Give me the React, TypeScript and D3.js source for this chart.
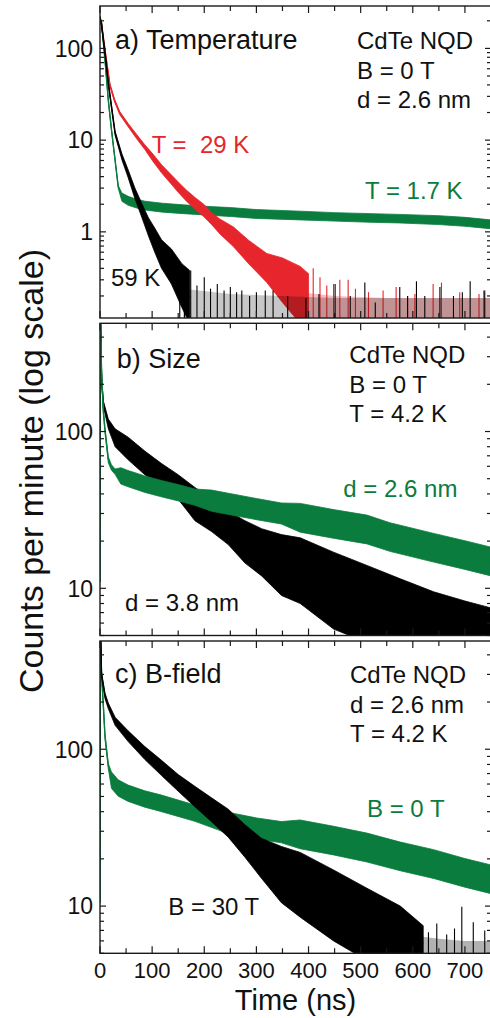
import React from 'react';
import * as d3 from 'd3';

const RED = '#e6262c';
const GREEN = '#0a7c3e';
const BLACK = '#000000';
const FONT = '"Liberation Sans", Arial, Helvetica, sans-serif';

// ---------- Panel a) Temperature ----------
const aGreenT = [0, 3, 10, 16, 22, 29, 35, 42, 54, 70, 86, 120, 160, 200, 250, 300, 384, 450, 520, 575, 650, 700, 750];
const aGreenLo = [209, 184, 68, 26, 12.6, 5.8, 3.0, 2.15, 1.95, 1.82, 1.73, 1.64, 1.58, 1.53, 1.47, 1.40, 1.35, 1.31, 1.27, 1.25, 1.2, 1.15, 1.08];
const aGreenHi = [221, 196, 72, 28, 13.4, 6.2, 3.2, 2.65, 2.44, 2.27, 2.16, 2.05, 1.97, 1.9, 1.84, 1.75, 1.68, 1.62, 1.58, 1.55, 1.5, 1.44, 1.35];

const aRedT = [0, 3, 10, 19, 28, 38, 54, 70, 86, 102, 118, 134, 150, 166, 183, 200, 214, 230, 256, 285, 320, 350, 384, 400];
const aRedLo = [207, 178, 88, 38.5, 26, 18.9, 14.0, 10.4, 7.9, 5.8, 4.4, 3.45, 2.7, 2.15, 1.75, 1.45, 1.2, 0.95, 0.69, 0.45, 0.28, 0.17, 0.1, 0.1];
const aRedHi = [223, 192, 96, 41.5, 28, 20.5, 15.2, 11.6, 8.9, 7.0, 5.4, 4.35, 3.5, 2.85, 2.35, 1.98, 1.62, 1.38, 1.13, 0.81, 0.58, 0.52, 0.42, 0.35];
const aRedFloorT = [384, 450, 550, 650, 750];
const aRedFloorHi = [0.22, 0.2, 0.19, 0.19, 0.19];
const aRedSpikeT = [409, 422, 435, 448, 460, 476, 490, 515, 543, 568, 590, 604, 639, 655, 690, 727, 736];
const aRedSpikeV = [0.4, 0.32, 0.26, 0.27, 0.3, 0.3, 0.24, 0.22, 0.23, 0.25, 0.2, 0.21, 0.27, 0.28, 0.22, 0.21, 0.23];

const aBlackT = [0, 3, 10, 16, 29, 42, 54, 67, 80, 93, 105, 118, 137, 157, 172];
const aBlackLo = [207, 173, 81, 39.5, 11.3, 6.1, 3.9, 2.3, 1.45, 0.9, 0.6, 0.4, 0.27, 0.15, 0.1];
const aBlackHi = [223, 187, 89, 43.5, 12.5, 7.1, 4.75, 3.0, 2.05, 1.42, 1.1, 0.82, 0.65, 0.45, 0.38];
const aBlackFloorT = [160, 250, 350, 450, 550, 650, 750];
const aBlackFloorHi = [0.24, 0.21, 0.2, 0.19, 0.19, 0.19, 0.19];
const aBlackSpikeT = [153, 162, 174, 186, 200, 212, 225, 238, 250, 262, 272, 287, 300, 317, 332, 360, 395, 420, 451, 480, 508, 528, 575, 590, 607, 623, 652, 678, 695, 710, 738];
const aBlackSpikeV = [0.32, 0.28, 0.38, 0.26, 0.32, 0.24, 0.27, 0.23, 0.25, 0.22, 0.23, 0.2, 0.22, 0.23, 0.23, 0.2, 0.19, 0.21, 0.27, 0.2, 0.28, 0.17, 0.25, 0.2, 0.29, 0.2, 0.25, 0.2, 0.22, 0.29, 0.23];

// ---------- Panel b) Size ----------
const bGreenT = [0, 0.8, 3, 6, 9.6, 16, 22, 29, 40, 54, 86, 118, 150, 182, 214, 246, 300, 348, 384, 450, 512, 556, 640, 700, 750];
const bGreenLo = [11, 600, 240, 134, 98, 63, 56.6, 53.3, 46.2, 44.4, 40.9, 38.3, 36.1, 33.8, 31.0, 29.6, 27.4, 25.7, 22.8, 20.8, 19.2, 17.2, 14.7, 13.2, 12];
const bGreenHi = [11, 600, 260, 146, 106, 69, 61.4, 57.7, 58.8, 56.4, 52.1, 48.7, 45.9, 43.0, 42.3, 40.4, 37.4, 35.0, 34.8, 31.7, 29.3, 26.2, 22.4, 20.1, 18.3];

const bBlackT = [0.8, 3, 6.4, 16, 29, 54, 86, 118, 150, 182, 214, 246, 278, 310, 348, 384, 448, 512, 576, 640, 700, 750];
const bBlackLo = [600, 205, 145, 104, 80, 66, 53, 44, 37, 27, 23, 19, 14.5, 12, 9, 8, 5.5, 4.5, 4.5, 4.5, 4.5, 4.5];
const bBlackHi = [600, 223, 157, 120, 104, 92, 75, 62.5, 53, 44, 37, 31, 27, 24, 22, 21, 17, 14, 11.5, 9.5, 8.3, 7.5];

// ---------- Panel c) B-field ----------
const cGreenT = [0, 0.8, 3, 6.4, 9.6, 16, 22, 35, 54, 86, 118, 182, 246, 300, 348, 384, 448, 512, 576, 640, 700, 750];
const cGreenLo = [10.5, 600, 288, 182, 116, 75, 56.3, 50.2, 46.5, 42.7, 40.0, 34.7, 29.0, 26.8, 25.3, 23.2, 21.2, 19.1, 16.8, 15.0, 13.2, 12];
const cGreenHi = [10.5, 600, 312, 198, 126, 81, 71.7, 63.8, 59.1, 54.3, 51.0, 44.1, 39.6, 36.5, 34.6, 35.4, 32.3, 29.2, 25.6, 22.9, 20.1, 18.3];

const cBlackT = [0.8, 3, 9.6, 16, 29, 54, 86, 118, 150, 182, 214, 246, 278, 310, 348, 384, 448, 512, 576, 620];
const cBlackLo = [600, 290, 210, 181, 142, 112, 86, 68, 54, 43, 34.5, 27.5, 20.5, 15, 10.5, 8.5, 6, 4.5, 4.5, 4.5];
const cBlackHi = [600, 310, 228, 197, 160, 131, 104, 85, 69, 58, 49, 41.5, 33, 27, 24, 22, 17, 13, 10, 7.5];
const cBlackFloorT = [600, 650, 700, 750];
const cBlackFloorHi = [6.5, 6.2, 6.0, 6.0];
const cBlackSpikeT = [576, 630, 646, 665, 680, 694, 716, 738];
const cBlackSpikeV = [7.8, 6.8, 7.75, 6.6, 7.2, 9.9, 7.9, 7.0];

// ---------- axes ----------
const xDomain = [0, 750];
const xTickLabels = ['0', '100', '200', '300', '400', '500', '600', '700'];
const aDomain = [0.115, 290];
const bcDomain = [5, 490];

const X0 = 100;
const X1 = 491;
const xScale = d3.scaleLinear().domain(xDomain).range([X0, X1]);

type Band = { t: number[]; lo: number[]; hi: number[]; color: string };
type Floor = { t: number[]; hi: number[]; color: string; opacity: number };
type Spikes = { t: number[]; v: number[]; color: string };
type Txt = { s: string; x: number; y: number; size: number; color: string };

function Panel(props: {
  id: string; top: number; bottom: number; domain: number[];
  items: Array<{ kind: 'band'; d: Band } | { kind: 'floor'; d: Floor } | { kind: 'spikes'; d: Spikes }>;
  texts: Txt[]; xLabels: boolean;
}) {
  const { id, top, bottom, domain, items, texts, xLabels } = props;
  const y = d3.scaleLog().domain(domain).range([bottom, top]);
  const yTicks = y.ticks();
  const xTicks = xScale.ticks(15);
  const clipId = `clip-${id}`;
  const isMajor = (v: number) => Math.abs(Math.log10(v) - Math.round(Math.log10(v))) < 1e-6;

  return (
    <g>
      <defs>
        <clipPath id={clipId}>
          <rect x={X0} y={top} width={X1 - X0} height={bottom - top} />
        </clipPath>
      </defs>
      <g clipPath={`url(#${clipId})`}>
        {items.map((it, k) => {
          if (it.kind === 'band') {
            const b = it.d;
            const idx = d3.range(b.t.length);
            const area = d3.area<number>()
              .x((i) => xScale(b.t[i]))
              .y0((i) => y(b.lo[i]))
              .y1((i) => y(b.hi[i]));
            const line = d3.line<number>()
              .x((i) => xScale(b.t[i]))
              .y((i) => y(Math.sqrt(b.lo[i] * b.hi[i])));
            return (
              <g key={k}>
                <path d={area(idx) || ''} fill={b.color} stroke={b.color} strokeWidth={0.8} strokeLinejoin="round" />
                <path d={line(idx) || ''} fill="none" stroke={b.color} strokeWidth={1.3} />
              </g>
            );
          }
          if (it.kind === 'floor') {
            const f = it.d;
            const idx = d3.range(f.t.length);
            const area = d3.area<number>()
              .x((i) => xScale(f.t[i]))
              .y0(bottom + 2)
              .y1((i) => y(f.hi[i]));
            return <path key={k} d={area(idx) || ''} fill={f.color} fillOpacity={f.opacity} />;
          }
          const s = it.d;
          return (
            <g key={k}>
              {s.t.map((t, i) => (
                <line key={i} x1={xScale(t)} x2={xScale(t)} y1={bottom + 2} y2={y(s.v[i])} stroke={s.color} strokeWidth={1.1} />
              ))}
            </g>
          );
        })}
      </g>
      <rect x={X0} y={top} width={X1 - X0} height={bottom - top} fill="none" stroke="#1a1a1a" strokeWidth={1.4} />
      {xTicks.map((t, i) => {
        const len = t % 100 === 0 ? 7 : 5;
        const xx = xScale(t);
        return (
          <g key={`xt${i}`}>
            <line x1={xx} x2={xx} y1={top} y2={top + len} stroke="#1a1a1a" strokeWidth={1.2} />
            <line x1={xx} x2={xx} y1={bottom} y2={bottom - len} stroke="#1a1a1a" strokeWidth={1.2} />
          </g>
        );
      })}
      {yTicks.map((v, i) => {
        const len = isMajor(v) ? 6 : 4;
        const yy = y(v);
        return (
          <g key={`yt${i}`}>
            <line x1={X0} x2={X0 + len} y1={yy} y2={yy} stroke="#1a1a1a" strokeWidth={1.2} />
            <line x1={X1} x2={X1 - len} y1={yy} y2={yy} stroke="#1a1a1a" strokeWidth={1.2} />
            {isMajor(v) ? (
              <text x={93} y={yy} dy="0.36em" textAnchor="end" fontSize={23} fontFamily={FONT} fill="#111">
                {String(v)}
              </text>
            ) : null}
          </g>
        );
      })}
      {xLabels
        ? xTicks.filter((t) => t % 100 === 0 && t <= 700).map((t, i) => (
            <text key={`xl${i}`} x={xScale(t)} y={978} textAnchor="middle" fontSize={22} fontFamily={FONT} fill="#111">
              {xTickLabels[i]}
            </text>
          ))
        : null}
      {texts.map((tx, i) => (
        <text key={`tx${i}`} x={tx.x} y={tx.y} fontSize={tx.size} fontFamily={FONT} fill={tx.color} style={{ whiteSpace: 'pre' }}>
          {tx.s}
        </text>
      ))}
    </g>
  );
}

export default function App() {
  return (
    <svg width={490} height={1018} viewBox="0 0 490 1018" style={{ position: 'absolute', left: 0, top: 0, background: '#fff' }}>
      <rect x={0} y={0} width={490} height={1018} fill="#fff" />
      <Panel
        id="a" top={6} bottom={318} domain={aDomain} xLabels={false}
        items={[
          { kind: 'band', d: { t: aGreenT, lo: aGreenLo, hi: aGreenHi, color: GREEN } },
          { kind: 'floor', d: { t: aRedFloorT, hi: aRedFloorHi, color: RED, opacity: 0.3 } },
          { kind: 'spikes', d: { t: aRedSpikeT, v: aRedSpikeV, color: RED } },
          { kind: 'band', d: { t: aRedT, lo: aRedLo, hi: aRedHi, color: RED } },
          { kind: 'floor', d: { t: aBlackFloorT, hi: aBlackFloorHi, color: BLACK, opacity: 0.22 } },
          { kind: 'spikes', d: { t: aBlackSpikeT, v: aBlackSpikeV, color: BLACK } },
          { kind: 'band', d: { t: aBlackT, lo: aBlackLo, hi: aBlackHi, color: BLACK } },
        ]}
        texts={[
          { s: 'a) Temperature', x: 115, y: 49, size: 27, color: '#111' },
          { s: 'CdTe NQD', x: 357, y: 49, size: 24, color: '#111' },
          { s: 'B = 0 T', x: 357, y: 79, size: 24, color: '#111' },
          { s: 'd = 2.6 nm', x: 357, y: 108, size: 24, color: '#111' },
          { s: 'T =  29 K', x: 151.7, y: 152.7, size: 24, color: RED },
          { s: 'T = 1.7 K', x: 365, y: 199.3, size: 24, color: GREEN },
          { s: '59 K', x: 111, y: 286, size: 24, color: '#111' },
        ]}
      />
      <Panel
        id="b" top={323.3} bottom={635.5} domain={bcDomain} xLabels={false}
        items={[
          { kind: 'band', d: { t: bBlackT, lo: bBlackLo, hi: bBlackHi, color: BLACK } },
          { kind: 'band', d: { t: bGreenT, lo: bGreenLo, hi: bGreenHi, color: GREEN } },
        ]}
        texts={[
          { s: 'b) Size', x: 116.7, y: 368.3, size: 27, color: '#111' },
          { s: 'CdTe NQD', x: 349.3, y: 363.3, size: 24, color: '#111' },
          { s: 'B = 0 T', x: 349.3, y: 392.7, size: 24, color: '#111' },
          { s: 'T = 4.2 K', x: 349.3, y: 421.7, size: 24, color: '#111' },
          { s: 'd = 2.6 nm', x: 343.3, y: 496.7, size: 24, color: GREEN },
          { s: 'd = 3.8 nm', x: 125, y: 611, size: 24, color: '#111' },
        ]}
      />
      <Panel
        id="c" top={641} bottom={953.3} domain={bcDomain} xLabels={true}
        items={[
          { kind: 'band', d: { t: cGreenT, lo: cGreenLo, hi: cGreenHi, color: GREEN } },
          { kind: 'floor', d: { t: cBlackFloorT, hi: cBlackFloorHi, color: BLACK, opacity: 0.3 } },
          { kind: 'spikes', d: { t: cBlackSpikeT, v: cBlackSpikeV, color: BLACK } },
          { kind: 'band', d: { t: cBlackT, lo: cBlackLo, hi: cBlackHi, color: BLACK } },
        ]}
        texts={[
          { s: 'c) B-field', x: 115, y: 682.7, size: 27, color: '#111' },
          { s: 'CdTe NQD', x: 350, y: 683.3, size: 24, color: '#111' },
          { s: 'd = 2.6 nm', x: 350, y: 713.3, size: 24, color: '#111' },
          { s: 'T = 4.2 K', x: 350, y: 742.3, size: 24, color: '#111' },
          { s: 'B = 0 T', x: 367, y: 816.7, size: 24, color: GREEN },
          { s: 'B = 30 T', x: 168.3, y: 915, size: 24, color: '#111' },
        ]}
      />
      <text
        transform="translate(43,471) rotate(-90)" textAnchor="middle"
        fontSize={34} fontFamily={FONT} fill="#111"
      >
        Counts per minute (log scale)
      </text>
      <text x={295.5} y={1010} textAnchor="middle" fontSize={29} fontFamily={FONT} fill="#111">
        Time (ns)
      </text>
    </svg>
  );
}
